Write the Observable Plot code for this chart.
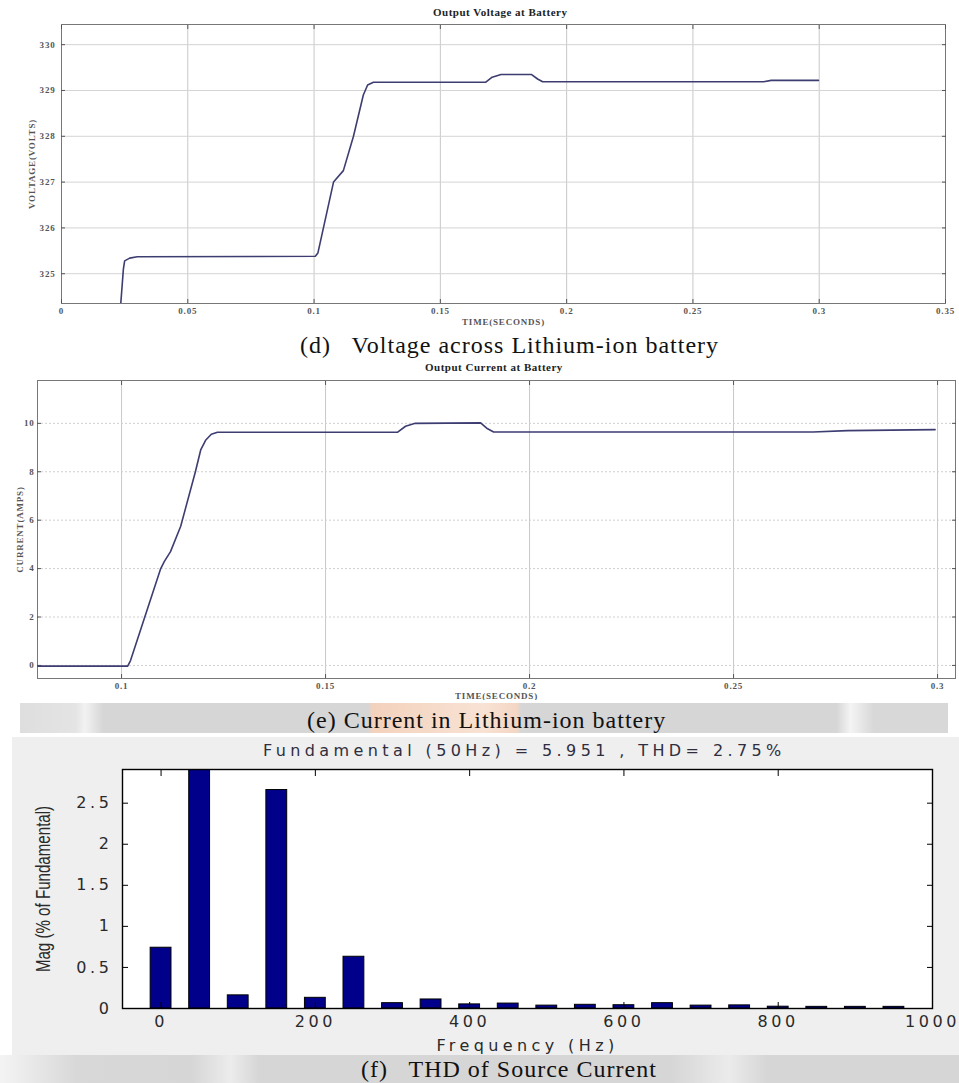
<!DOCTYPE html>
<html><head><meta charset="utf-8">
<script src="https://cdn.jsdelivr.net/npm/d3@7"></script>
<script src="https://cdn.jsdelivr.net/npm/@observablehq/plot@0.6"></script>
<style>
body{margin:0;background:#fff;}
#root{position:relative;width:959px;height:1083px;overflow:hidden;background:#fff;}
.abs{position:absolute;}
.cap{font-family:"Liberation Serif","Times New Roman",serif;font-size:24px;letter-spacing:1px;color:#111;white-space:pre;line-height:1;}
.ttl{font-family:"Liberation Serif",serif;font-weight:bold;font-size:11px;letter-spacing:0.5px;color:#222;white-space:pre;line-height:1;}
</style></head><body><div id="root"></div>
<script>
// ---------- Panel (d): Output Voltage at Battery ----------
const voltTime = [0.0234, 0.0245, 0.0250, 0.027, 0.030, 0.1005, 0.1015, 0.1077, 0.1116, 0.1156, 0.1195, 0.1212, 0.1235, 0.168, 0.1705, 0.174, 0.186, 0.1885, 0.1905, 0.278, 0.281, 0.2997];
const voltValue = [324.30, 325.10, 325.28, 325.34, 325.37, 325.38, 325.45, 327.00, 327.25, 328.00, 328.90, 329.12, 329.18, 329.18, 329.29, 329.35, 329.35, 329.25, 329.19, 329.19, 329.22, 329.22];
const voltXTicks = [0, 0.05, 0.1, 0.15, 0.2, 0.25, 0.3, 0.35];
const voltXLabels = ["0", "0.05", "0.1", "0.15", "0.2", "0.25", "0.3", "0.35"];
const voltYTicks = [325, 326, 327, 328, 329, 330];
const voltYLabels = ["325", "326", "327", "328", "329", "330"];

// ---------- Panel (e): Output Current at Battery ----------
const currTime = [0.0795, 0.1015, 0.1022, 0.1096, 0.1105, 0.112, 0.1145, 0.1181, 0.1194, 0.1206, 0.122, 0.1235, 0.1676, 0.1696, 0.172, 0.188, 0.1895, 0.1912, 0.2695, 0.2779, 0.2994];
const currValue = [-0.03, -0.03, 0.2, 4.0, 4.3, 4.7, 5.75, 8.0, 8.9, 9.3, 9.55, 9.63, 9.63, 9.88, 10.0, 10.02, 9.8, 9.64, 9.64, 9.70, 9.74];
const currXTicks = [0.1, 0.15, 0.2, 0.25, 0.3];
const currXLabels = ["0.1", "0.15", "0.2", "0.25", "0.3"];
const currYTicks = [0, 2, 4, 6, 8, 10];
const currYLabels = ["0", "2", "4", "6", "8", "10"];

// ---------- Panel (f): THD of Source Current ----------
const thdFreq = [0, 50, 100, 150, 200, 250, 300, 350, 400, 450, 500, 550, 600, 650, 700, 750, 800, 850, 900, 950];
const thdMag = [0.74, 100, 0.16, 2.66, 0.13, 0.63, 0.065, 0.11, 0.05, 0.06, 0.035, 0.045, 0.04, 0.065, 0.035, 0.038, 0.022, 0.02, 0.02, 0.02];
const thdXTicks = [0, 200, 400, 600, 800, 1000];
const thdXLabels = ["0", "200", "400", "600", "800", "1000"];
const thdYTicks = [0, 0.5, 1, 1.5, 2, 2.5];
const thdYLabels = ["0", "0.5", "1", "1.5", "2", "2.5"];

const voltData = voltTime.map((t, i) => ({t, v: voltValue[i]}));
const currData = currTime.map((t, i) => ({t, v: currValue[i]}));
const thdData = thdFreq.map((f, i) => ({f, m: thdMag[i]}));
const lab = (ticks, labels) => d => labels[ticks.indexOf(d)] ?? "";

const root = document.getElementById("root");
function place(el, left, top) { el.style.position = "absolute"; el.style.left = left + "px"; el.style.top = top + "px"; root.appendChild(el); return el; }
function div(cls, text, left, top, extra) { const e = document.createElement("div"); e.className = cls; e.textContent = text; if (extra) Object.assign(e.style, extra); return place(e, left, top); }

// watermark bands
div("abs", "", 20, 703, {width: "928px", height: "30px", background: "linear-gradient(90deg,#dedede 0%,#e4e4e4 6%,#f2f2f2 7%,#d6d6d6 9%,#d6d6d6 37.5%,#f3d2bd 38%,#f8e2d4 50%,#f4d6c4 53.5%,#d6d6d6 54%,#d6d6d6 88%,#f4f4f4 89.5%,#d8d8d8 92%)"});
div("abs", "", 0, 1055, {width: "959px", height: "28px", background: "linear-gradient(90deg,#f4f4f4 0%,#d8d8d8 8%,#d6d6d6 20%,#ececec 24%,#d6d6d6 27%,#d6d6d6 70%,#ebebeb 76%,#d6d6d6 80%,#d6d6d6 100%)"});
div("abs", "", 12, 737, {width: "947px", height: "318px", background: "#efefef"});

const inkLine = "#3d3d72";
const smallStyle = {fontFamily: "Liberation Serif, serif", fontSize: "9px", letterSpacing: "0.8px", fontWeight: "bold", color: "#555", background: "transparent"};

// Panel d
const p1 = Plot.plot({
  width: 959, height: 330,
  marginLeft: 61, marginRight: 14, marginTop: 24, marginBottom: 27,
  style: smallStyle,
  x: {domain: [0, 0.35]},
  y: {domain: [324.35, 330.44]},
  marks: [
    Plot.gridX(voltXTicks, {stroke: "#c8c8c8", strokeOpacity: 1}),
    Plot.gridY(voltYTicks, {stroke: "#d4d4d4", strokeOpacity: 1}),
    Plot.frame({stroke: "#777"}),
    Plot.axisX({ticks: voltXTicks, tickFormat: lab(voltXTicks, voltXLabels), tickSize: -4, tickPadding: 8, label: "TIME(SECONDS)", labelAnchor: "center", labelOffset: 21, labelArrow: "none"}),
    Plot.axisX({anchor: "top", ticks: voltXTicks, tickFormat: () => "", tickSize: -4, label: null}),
    Plot.axisY({ticks: voltYTicks, tickFormat: lab(voltYTicks, voltYLabels), tickSize: -4, tickPadding: 10, label: "VOLTAGE(VOLTS)", labelAnchor: "center", labelOffset: 33, labelArrow: "none"}),
    Plot.axisY({anchor: "right", ticks: voltYTicks, tickFormat: () => "", tickSize: -4, label: null}),
    Plot.line(voltData, {x: "t", y: "v", stroke: inkLine, strokeWidth: 1.6, clip: true})
  ]
});
place(p1, 0, 0);
div("ttl", "Output Voltage at Battery", 433, 7);
div("cap", "(d)   Voltage across Lithium-ion battery", 300, 333);

// Panel e
const p2 = Plot.plot({
  width: 959, height: 330,
  marginLeft: 37, marginRight: 4, marginTop: 10, marginBottom: 22,
  style: smallStyle,
  x: {domain: [0.0794, 0.3044]},
  y: {domain: [-0.54, 11.77]},
  marks: [
    Plot.gridX(currXTicks, {stroke: "#c8c8c8", strokeOpacity: 1}),
    Plot.gridY(currYTicks, {stroke: "#cfcfcf", strokeOpacity: 1, strokeDasharray: "2,2"}),
    Plot.frame({stroke: "#777"}),
    Plot.axisX({ticks: currXTicks, tickFormat: lab(currXTicks, currXLabels), tickSize: -4, tickPadding: 8, label: "TIME(SECONDS)", labelAnchor: "center", labelOffset: 20, labelArrow: "none"}),
    Plot.axisX({anchor: "top", ticks: currXTicks, tickFormat: () => "", tickSize: -4, label: null}),
    Plot.axisY({ticks: currYTicks, tickFormat: lab(currYTicks, currYLabels), tickSize: -4, tickPadding: 7, label: "CURRENT(AMPS)", labelAnchor: "center", labelOffset: 21, labelArrow: "none"}),
    Plot.axisY({anchor: "right", ticks: currYTicks, tickFormat: () => "", tickSize: -4, label: null}),
    Plot.line(currData, {x: "t", y: "v", stroke: inkLine, strokeWidth: 1.6, clip: true})
  ]
});
place(p2, 0, 370);
div("ttl", "Output Current at Battery", 425, 362);
div("cap", "(e) Current in Lithium-ion battery", 307, 708);

// Panel f
const halfBar = 13.5;
const p3 = Plot.plot({
  width: 947, height: 318,
  marginLeft: 110, marginRight: 27, marginTop: 32, marginBottom: 47,
  style: {fontFamily: "DejaVu Sans, sans-serif", fontSize: "16px", letterSpacing: "3.6px", color: "#2a2a2a", background: "transparent"},
  x: {domain: [-50, 1000]},
  y: {domain: [0, 2.91]},
  marks: [
    Plot.frame({fill: "#fff", stroke: "none"}),
    Plot.rectY(thdData, {x1: d => d.f - halfBar, x2: d => d.f + halfBar, y1: 0, y2: "m", fill: "#00008b", stroke: "#000", strokeWidth: 1, clip: true}),
    Plot.frame({stroke: "#000", strokeWidth: 1.4}),
    Plot.axisX({ticks: thdXTicks, tickFormat: lab(thdXTicks, thdXLabels), tickSize: -6, tickPadding: 13, label: "Frequency (Hz)", labelAnchor: "center", labelOffset: 42, labelArrow: "none", stroke: "#000"}),
    Plot.axisX({anchor: "top", ticks: thdXTicks, tickFormat: () => "", tickSize: -6, label: null, stroke: "#000"}),
    Plot.axisY({ticks: thdYTicks, tickFormat: lab(thdYTicks, thdYLabels), tickSize: -6, tickPadding: 16, label: null, stroke: "#000"}),
    Plot.axisY({anchor: "right", ticks: thdYTicks, tickFormat: () => "", tickSize: -6, label: null, stroke: "#000"}),
    Plot.text(["Mag (% of Fundamental)"], {frameAnchor: "left", textAnchor: "middle", dx: -79, rotate: -90, fontFamily: "Liberation Sans, sans-serif", fontSize: 21, fill: "#2a2a2a"})
  ]
});
// narrow, tall y-axis label like the original condensed font
d3.select(p3).selectAll("text").each(function() {
  const t = d3.select(this);
  if (this.textContent === "Mag (% of Fundamental)") {
    t.style("letter-spacing", "0px").attr("text-anchor", "middle");
    t.attr("transform", (t.attr("transform") || "") + " scale(0.72,1)");
  } else if (this.textContent === "Frequency (Hz)") {
    t.style("letter-spacing", "4.4px");
  }
});
place(p3, 12, 737);
div("abs", "Fundamental (50Hz) = 5.951 , THD= 2.75%", 263, 743, {fontFamily: "DejaVu Sans, sans-serif", fontSize: "16px", letterSpacing: "4.4px", color: "#2e2e40", whiteSpace: "pre", lineHeight: "1"});
div("cap", "(f)   THD of Source Current", 361, 1057);
</script>
</body></html>
